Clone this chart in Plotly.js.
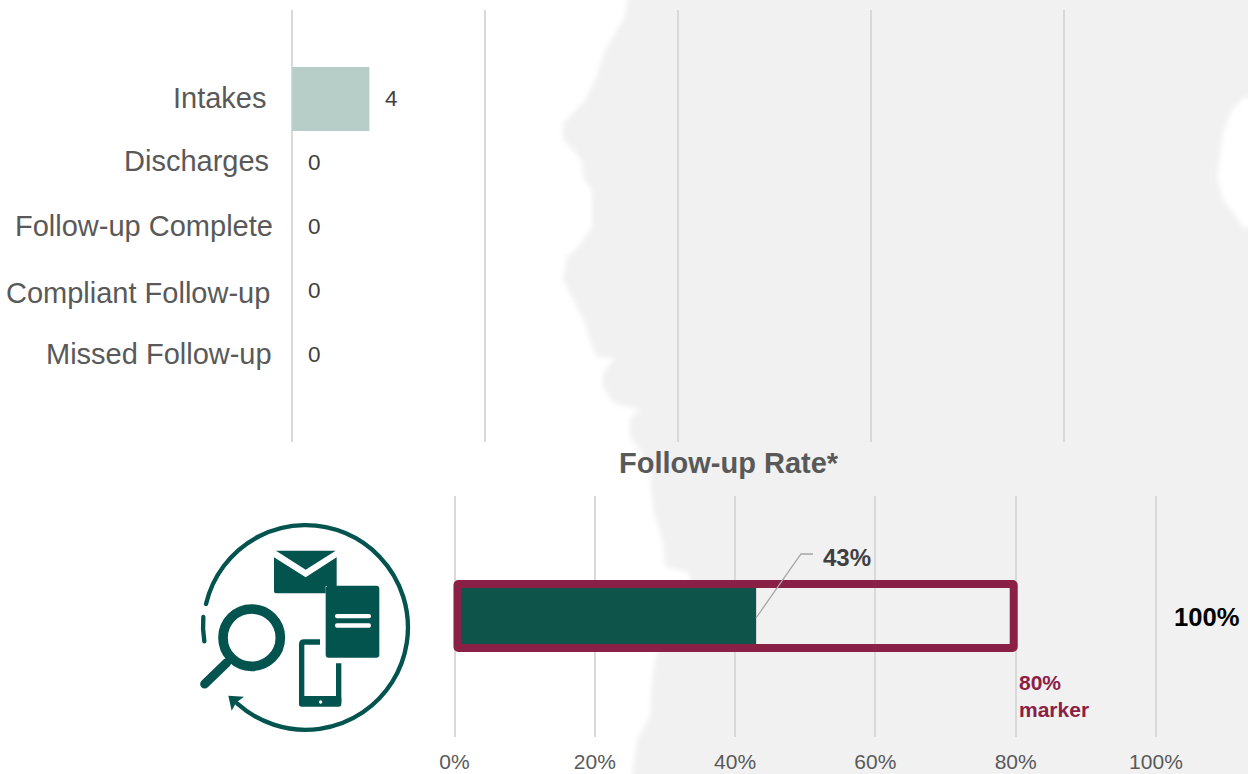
<!DOCTYPE html>
<html>
<head>
<meta charset="utf-8">
<script src="https://cdn.plot.ly/plotly-3.0.1.min.js"></script>
<style>html,body{margin:0;padding:0;background:#fff;overflow:hidden}#chart{width:1248px;height:774px}</style>
</head>
<body>
<div id="chart"></div>
<script>
const categories = ['Intakes', 'Discharges', 'Follow-up Complete', 'Compliant Follow-up', 'Missed Follow-up'];
const counts = [4, 0, 0, 0, 0];
const labelRightEdge = [269, 271, 275, 272, 273.5];
const labelNudgeY = [-1, -2, -1, 2, -1];
const rateLabel = 'Follow-up Rate';
const rateValue = [43];
const markerValue = [80];
const rateTicks = [0, 20, 40, 60, 80, 100];
const rateTickLabels = ['0%', '20%', '40%', '60%', '80%', '100%'];
const countTicks = [0, 10, 20, 30, 40];

const W = 1248, H = 774;
const px = x => x / W, py = y => 1 - y / H;
const FONT = '"Liberation Sans", Arial, sans-serif';
const GRID = '#d9d9d9', GREY = '#595959', DARK = '#404040', MAROON = '#8a2046', GREEN = '#0f544b', SAGE = '#b7cdc8', ICON = '#03534f';

const bgSvg = `<svg xmlns="http://www.w3.org/2000/svg" width="${W}" height="${H}" viewBox="0 0 ${W} ${H}">
<defs><filter id="b" x="-5%" y="-5%" width="110%" height="110%"><feGaussianBlur stdDeviation="2.6"/></filter></defs>
<path filter="url(#b)" fill="#f1f1f1" d="M628 -10 L625 17 L617 30 L605 50 L598 73 L590 90 L583 103 L573 113 L563 123 L563 140 L570 147 L582 160 L583 177 L592 190 L592 227 L585 237 L578 247 L567 257 L563 280 L575 303 L585 323 L592 347 L597 357 L615 358 L603 373 L603 387 L613 403 L642 410 L630 417 L630 437 L638 447 L650 470 L653 510 L658 525 L663 543 L665 567 L690 573 L690 600 L657 653 L652 680 L650 717 L637 740 L630 790 L1260 790 L1260 -10 Z"/>
<path filter="url(#b)" fill="#ffffff" d="M1265 96 L1243 98 L1230 113 L1223 133 L1217 177 L1223 200 L1233 213 L1243 227 L1265 230 Z"/>
</svg>`;

const iconSvg = `<svg xmlns="http://www.w3.org/2000/svg" width="780" height="750" viewBox="0 0 780 750">
<g fill="none" stroke="${ICON}" stroke-linecap="round">
<path stroke-width="13" d="M78 312 A307 307 0 1 1 172 611"/>
<path stroke-width="13" d="M70 351 Q67 388 73 424"/>
<circle cx="215" cy="413" r="86" stroke-width="29"/>
<path stroke-width="27" d="M74 552 L140 488"/>
<path stroke-width="16" stroke-linecap="butt" d="M420 426 H372 Q365 426 365 433 V600 H476 V490"/>
</g>
<g fill="${ICON}">
<path d="M145 587 L192 590 L168 608 L155 632 Z"/>
<path d="M288 152 L467 152 L377 209 Z"/>
<path d="M282 172 L377 232 L470 172 L470 258 L437 258 L437 280 L288 280 Q282 280 282 274 Z"/>
<rect x="437" y="257" width="161" height="216" rx="9"/>
<rect x="357" y="588" width="127" height="32" rx="8"/>
</g>
<g fill="#fff">
<rect x="465" y="342" width="108" height="13" rx="6"/>
<rect x="465" y="370" width="108" height="13" rx="6"/>
<circle cx="422" cy="606" r="5"/>
</g>
</svg>`;
const uri = s => 'data:image/svg+xml;base64,' + btoa(s);

const traces = [
  {type:'bar', orientation:'h', x:counts, y:categories, xaxis:'x', yaxis:'y', width:1,
   marker:{color:SAGE}, hoverinfo:'x+y'},
  {type:'bar', orientation:'h', x:rateValue, y:[0], xaxis:'x2', yaxis:'y2', width:0.875,
   marker:{color:GREEN}, name:rateLabel},
  {type:'bar', orientation:'h', base:[0.42], x:[markerValue[0] - 0.7], y:[0], xaxis:'x2', yaxis:'y2', width:1,
   marker:{color:'rgba(0,0,0,0)', line:{color:MAROON, width:8}, cornerradius:1}, name:'80% marker'}
];

const annotations = [];
categories.forEach((c, i) => {
  annotations.push({xref:'paper', yref:'y', x:px(labelRightEdge[i]), y:c, yshift:-labelNudgeY[i], xanchor:'right', yanchor:'middle',
    text:c, showarrow:false, font:{family:FONT, size:29, color:GREY}});
  annotations.push({xref:'x', yref:'y', x:counts[i], y:c, xshift:22, yshift:0, xanchor:'center', yanchor:'middle',
    text:String(counts[i]), showarrow:false, font:{family:FONT, size:22.5, color:DARK}});
});
annotations.push({xref:'paper', yref:'paper', x:px(728.5), y:py(463), xanchor:'center', yanchor:'middle',
  text:'<b>Follow-up Rate*</b>', showarrow:false, font:{family:FONT, size:29, color:GREY}});
annotations.push({xref:'paper', yref:'paper', x:px(820.5), y:py(557), xanchor:'left', yanchor:'middle',
  text:'<b>' + rateValue[0] + '%</b>', showarrow:false, font:{family:FONT, size:24, color:DARK}});
annotations.push({xref:'paper', yref:'paper', x:px(1172), y:py(617), xanchor:'left', yanchor:'middle',
  text:'<b>100%</b>', showarrow:false, font:{family:FONT, size:25.6, color:'#000'}});
annotations.push({xref:'paper', yref:'paper', x:px(1017), y:py(695.5), xanchor:'left', yanchor:'middle', align:'left',
  text:'<b>' + markerValue[0] + '%<br>marker</b>', showarrow:false, font:{family:FONT, size:21, color:MAROON}});

const layout = {
  width:W, height:H, margin:{l:0, r:0, t:0, b:0},
  paper_bgcolor:'#fff', plot_bgcolor:'rgba(0,0,0,0)', showlegend:false, barmode:'overlay',
  xaxis:{domain:[px(272.9), px(1083.5)], range:[-1, 41], tickvals:countTicks, showticklabels:false, ticks:'',
    showgrid:true, gridcolor:GRID, gridwidth:1.5, zeroline:false, showline:false, anchor:'y'},
  yaxis:{domain:[py(442), py(10)], range:[5.36, -1.39], showticklabels:false, ticks:'', showgrid:false,
    zeroline:false, showline:false, anchor:'x', type:'category'},
  xaxis2:{domain:[px(440.5), px(1170)], range:[-2, 102], tickvals:rateTicks, ticktext:rateTickLabels, ticks:'',
    tickfont:{family:FONT, size:21, color:GREY}, ticklabelstandoff:10,
    showgrid:true, gridcolor:GRID, gridwidth:1.5, zeroline:false, showline:false, anchor:'y2'},
  yaxis2:{domain:[py(737), py(496)], range:[-121/64, 120/64], showticklabels:false, ticks:'', showgrid:false,
    zeroline:false, showline:false, anchor:'x2'},
  shapes:[
    {type:'path', xref:'paper', yref:'paper', layer:'above',
     path:`M ${px(756)} ${py(618)} L ${px(801)} ${py(554)} L ${px(813)} ${py(554)}`,
     line:{color:'#a6a6a6', width:1.3}}
  ],
  images:[
    {source:uri(bgSvg), xref:'paper', yref:'paper', x:0, y:1, sizex:1, sizey:1, sizing:'stretch', xanchor:'left', yanchor:'top', layer:'below'},
    {source:uri(iconSvg), xref:'paper', yref:'paper', x:px(180), y:py(500), sizex:260/W, sizey:250/H, sizing:'stretch', xanchor:'left', yanchor:'top', layer:'above'}
  ],
  annotations
};
Plotly.newPlot('chart', traces, layout, {displayModeBar:false});
</script>
</body>
</html>
